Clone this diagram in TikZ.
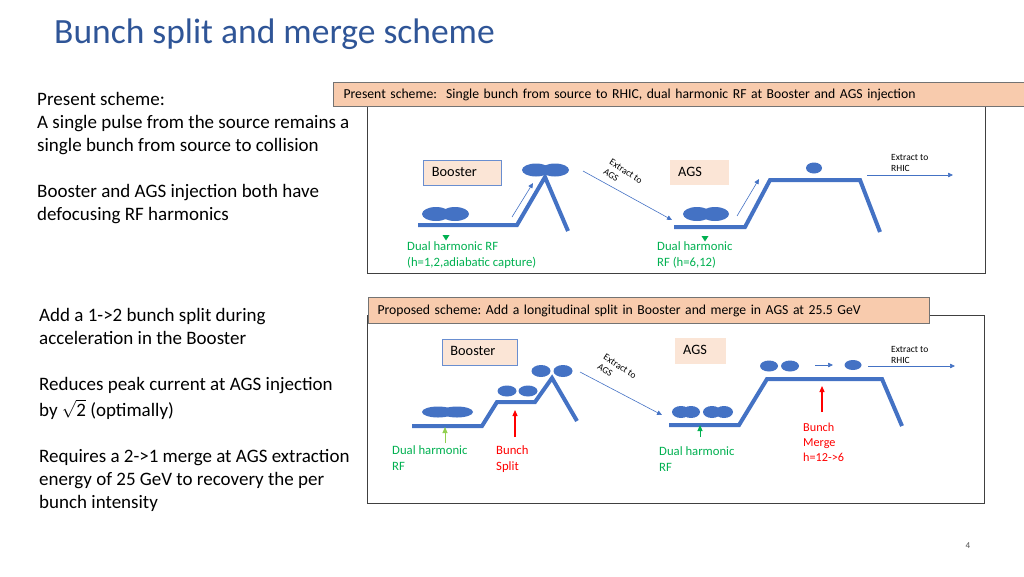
\documentclass[tikz,border=0pt]{standalone}
\usepackage{amsmath}
\usepackage{xcolor}
\usepackage{fontspec}
\setmainfont{Carlito}
\usepackage{tikz}
\usetikzlibrary{arrows.meta, positioning}
\frenchspacing

\definecolor{titleBlue}{RGB}{47,85,151}
\definecolor{lineBlue}{RGB}{68,114,196}
\definecolor{headFill}{RGB}{248,203,173}
\definecolor{boxFill}{RGB}{251,229,214}
\definecolor{rfGreen}{RGB}{0,176,80}
\definecolor{lightGreen}{RGB}{146,208,80}
\definecolor{splitRed}{RGB}{255,0,0}

\tikzset{
	bodytext/.style = {anchor = base west, align = left, inner sep = 0pt, font = \fontsize{19}{23}\selectfont},
	panel/.style = {draw = black!75, line width = 1.1pt, anchor = north west, inner sep = 0pt},
	header/.style = {draw = black!55, fill = headFill, line width = 1pt, anchor = north west, inner ysep = 0pt, align = left, text height = 10pt, text depth = 3pt, font = \fontsize{13.7}{16}\selectfont},
	ringbox/.style = {fill = boxFill, anchor = north west, inner ysep = 0pt, align = left, text height = 10pt, text depth = 3pt, font = \fontsize{14.3}{16}\selectfont},
	rampline/.style = {draw = lineBlue, line width = 4pt},
	bunch/.style = {fill = lineBlue},
	thinarrow/.style = {draw = lineBlue, line width = 0.6pt, -{Triangle[length = 5pt, width = 4.5pt]}},
	kickarrow/.style = {line width = 1.2pt, -{Triangle[length = 6pt, width = 5pt]}},
	smalltext/.style = {align = left, inner sep = 0pt, font = \fontsize{9.5}{11}\selectfont},
	rftext/.style = {anchor = base west, align = left, inner sep = 0pt, text = rfGreen, font = \fontsize{12.7}{15.5}\selectfont},
	splittext/.style = {anchor = base west, align = left, inner sep = 0pt, text = splitRed, font = \fontsize{12.7}{15.5}\selectfont}
}

\begin{document}
\begin{tikzpicture}[x = 1pt, y = -1pt]
	\useasboundingbox (0,0) rectangle (1024,576);

	\newcommand{\drawBunch}[4]
	{
		\fill [bunch] (#1,#2) ellipse [x radius = #3pt, y radius = #4pt]
	}

	\newcommand{\drawMarker}[2]
	{
		\fill [rfGreen] (#1-3.5,#2-3) -- (#1+3.5,#2-3) -- (#1,#2+2.5) -- cycle
	}

	\node [anchor = base west, inner sep = 0pt, text = titleBlue, font = \fontsize{35.5}{40}\selectfont] (title) at (54,43) {Bunch split and merge scheme};

	\begin{scope}
		\node [bodytext] (presentText) at (37,151) {Present scheme:\\A single pulse from the source remains a\\single bunch from source to collision};
		\node [bodytext] (presentHarm) at (37,220) {Booster and AGS injection both have\\defocusing RF harmonics};
		\node [bodytext] (proposedSplit) at (39,344) {Add a 1->2 bunch split during\\acceleration in the Booster};
		\node [bodytext] (proposedPeak) at (39,416) {Reduces peak current at AGS injection\\[3pt]by \(\sqrt{\text{2}}\) (optimally)};
		\node [bodytext] (proposedMerge) at (39,508) {Requires a 2->1 merge at AGS extraction\\energy of 25 GeV to recovery the per\\bunch intensity};
	\end{scope}

	\begin{scope}
		\node [panel, minimum width = 618pt, minimum height = 167pt] (presentPanel) at (367,106) {};
		\node [header, minimum width = 691pt, minimum height = 24pt, text width = 671pt, inner xsep = 10pt] (presentHead) at (333,82) {Present scheme: \ Single bunch from source to RHIC, dual harmonic RF at Booster and AGS injection};

		\node [ringbox, draw = lineBlue!80, line width = 0.8pt, minimum height = 25pt, text width = 61pt, inner xsep = 8.5pt] (presentBooster) at (423,160) {Booster};
		\node [ringbox, minimum height = 25pt, text width = 43pt, inner xsep = 8pt] (presentAgs) at (670,160) {AGS};

		\draw [rampline] (418,225) -- (517,225) -- (545,177) -- (568,231);
		\draw [rampline] (674,227) -- (745,227) -- (770,180) -- (860,180) -- (880,232);

		\drawBunch{436}{214}{14}{7};
		\drawBunch{455}{214}{14}{7};
		\drawBunch{536}{170}{14}{6.5};
		\drawBunch{555}{170}{14}{6.5};
		\drawBunch{697}{214}{14}{7};
		\drawBunch{715}{214}{14}{7};
		\drawBunch{814}{168}{8}{5.5};

		\coordinate (bstAccStart) at (512,217);
		\coordinate (bstAccEnd) at (533,183);
		\coordinate (bstExtract) at (583,171);
		\coordinate (agsInject) at (672,220);
		\coordinate (agsAccStart) at (737,216);
		\coordinate (agsAccEnd) at (759,179);
		\coordinate (agsExtract) at (867,175);
		\coordinate (rhicInject) at (953,175);

		\draw [thinarrow] (bstAccStart) -- (bstAccEnd);
		\draw [thinarrow] (bstExtract) -- (agsInject);
		\draw [thinarrow] (agsAccStart) -- (agsAccEnd);
		\draw [thinarrow] (agsExtract) -- (rhicInject);

		\node [smalltext, rotate = -33, font = \fontsize{9.5}{11}\selectfont] (presentToAgs) at (623,176) {Extract to\\AGS};
		\node [smalltext, anchor = base west] (presentToRhic) at (891,171) {Extract to\\RHIC};

		\drawMarker{446}{238};
		\drawMarker{705}{239};
		\node [rftext] (presentBstRf) at (407,266) {Dual harmonic RF\\(h=1,2,adiabatic capture)};
		\node [rftext] (presentAgsRf) at (657,266) {Dual harmonic\\RF (h=6,12)};
	\end{scope}

	\begin{scope}
		\node [panel, minimum width = 617pt, minimum height = 188pt] (proposedPanel) at (367,315) {};
		\node [header, minimum width = 561pt, minimum height = 26pt, text width = 543pt, inner xsep = 9pt] (proposedHead) at (368,297) {Proposed scheme: Add a longitudinal split in Booster and merge in AGS at 25.5 GeV};

		\node [ringbox, draw = lineBlue!80, line width = 0.8pt, minimum height = 26pt, text width = 59pt, inner xsep = 8pt] (proposedBooster) at (442,339) {Booster};
		\node [ringbox, minimum height = 26pt, text width = 35pt, inner xsep = 8pt] (proposedAgs) at (675,338) {AGS};

		\draw [rampline] (412,426) -- (482,426) -- (497,402) -- (535,402) -- (552,378) -- (577,421);
		\draw [rampline] (669,425) -- (739,425) -- (767,379) -- (882,379) -- (902,426);

		\drawBunch{438}{412}{16}{5.5};
		\drawBunch{457}{412}{16}{5.5};
		\drawBunch{507}{391}{9.5}{5.5};
		\drawBunch{528}{391}{9.5}{5.5};
		\drawBunch{541}{371}{9.5}{6};
		\drawBunch{563}{371}{9.5}{6};
		\drawBunch{681}{412}{9}{6};
		\drawBunch{691}{412}{9}{6};
		\drawBunch{712}{412}{9}{6};
		\drawBunch{724}{412}{9}{6};
		\drawBunch{769}{366}{9}{5.5};
		\drawBunch{790}{366}{9}{5.5};
		\drawBunch{853}{365}{8.5}{5};

		\coordinate (splitExtract) at (580,372);
		\coordinate (splitInject) at (662,415);
		\coordinate (mergeFrom) at (815,365);
		\coordinate (mergeTo) at (833,365);
		\coordinate (mergeExtract) at (868,366);
		\coordinate (mergeRhic) at (955,366);

		\draw [thinarrow] (splitExtract) -- (splitInject);
		\draw [thinarrow] (mergeFrom) -- (mergeTo);
		\draw [thinarrow] (mergeExtract) -- (mergeRhic);

		\node [smalltext, rotate = -33, font = \fontsize{9.5}{11}\selectfont] (proposedToAgs) at (617,371) {Extract to\\AGS};
		\node [smalltext, anchor = base west] (proposedToRhic) at (891,363) {Extract to\\RHIC};

		\coordinate (bstRfFoot) at (445,443);
		\coordinate (bstRfHead) at (445,427);
		\coordinate (splitFoot) at (515,437);
		\coordinate (splitHead) at (515,410);
		\coordinate (agsRfFoot) at (700,437);
		\coordinate (agsRfHead) at (700,425);
		\coordinate (mergeFoot) at (822,412);
		\coordinate (mergeHead) at (822,386);

		\draw [kickarrow, lightGreen, line width = 0.9pt] (bstRfFoot) -- (bstRfHead);
		\draw [kickarrow, splitRed] (splitFoot) -- (splitHead);
		\draw [kickarrow, rfGreen, line width = 0.9pt] (agsRfFoot) -- (agsRfHead);
		\draw [kickarrow, splitRed] (mergeFoot) -- (mergeHead);

		\node [rftext] (proposedBstRf) at (392,470) {Dual harmonic\\RF};
		\node [splittext] (proposedSplitLbl) at (496,470) {Bunch\\Split};
		\node [rftext] (proposedAgsRf) at (659,471) {Dual harmonic\\RF};
		\node [splittext, font = \fontsize{12.2}{15}\selectfont] (proposedMergeLbl) at (803,461) {Bunch\\Merge\\h=12->6};
	\end{scope}

	\node [inner sep = 0pt, text = black!70, font = \fontsize{9}{10}\selectfont] (pageNum) at (968,546) {4};
\end{tikzpicture}
\end{document}
